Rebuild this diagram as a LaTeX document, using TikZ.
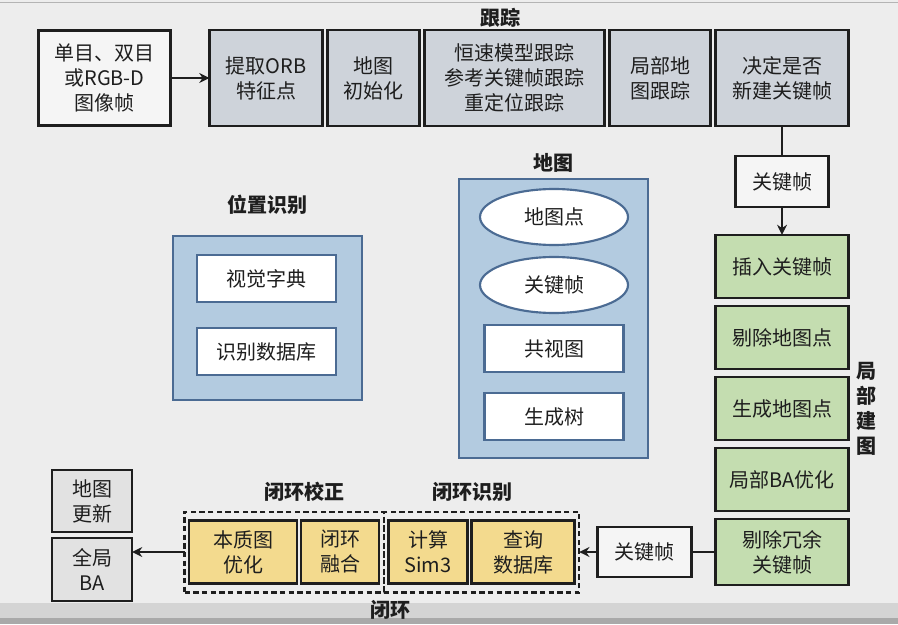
\documentclass[tikz,border=0pt]{standalone}
\usepackage{fontspec}
\setmainfont{Noto Sans CJK SC}
\usepackage{tikz}
\usetikzlibrary{arrows.meta,positioning,fit,shapes.geometric}
\definecolor{Backdrop}{HTML}{EDEDED}
\definecolor{Rule}{HTML}{B4B4B4}
\definecolor{Band}{HTML}{D4D4D4}
\definecolor{BandDark}{HTML}{A9A9A9}
\definecolor{Chalk}{HTML}{F5F5F5}
\definecolor{Steel}{HTML}{CED3DA}
\definecolor{Ash}{HTML}{E2E2E2}
\definecolor{Frost}{HTML}{B3CBE0}
\definecolor{Slate}{HTML}{4B6B93}
\definecolor{Leaf}{HTML}{C4DDB0}
\definecolor{Sand}{HTML}{F3DA8E}
\definecolor{Ink}{HTML}{1E1E1E}
\newcommand{\boxfont}{\fontsize{15pt}{18.75pt}\selectfont}
\tikzset{
  plain/.style={draw=Ink, line width=1.8pt, outer sep=0pt, fill=Chalk, align=center, inner sep=2pt, font=\boxfont, text=Ink},
  track/.style={plain, fill=Steel, minimum height=72pt},
  build/.style={plain, fill=Leaf, minimum width=99.75pt, minimum height=47.25pt},
  stage/.style={plain, fill=Sand, minimum height=47.25pt},
  spare/.style={plain, fill=Ash, minimum width=60pt},
  pane/.style={draw=Slate, line width=1.6pt, outer sep=0pt, fill=Frost},
  item/.style={draw=Slate, line width=1.6pt, outer sep=0pt, fill=white, minimum width=104.25pt, minimum height=35.25pt, font=\boxfont, text=Ink},
  oval/.style={ellipse, draw=Slate, line width=1.6pt, outer sep=0pt, fill=white, minimum width=111pt, minimum height=42pt, font=\boxfont, text=Ink},
  group/.style={draw=Ink, line width=1.6pt, outer sep=0pt, dash pattern=on 4pt off 2.5pt, inner xsep=3.5pt, inner ysep=6.7pt},
  title/.style={font=\boxfont\bfseries, text=Ink, inner sep=2pt, align=center},
  arrow/.style={-{Stealth[length=2.7mm, width=2.6mm]}, line width=1.8pt, draw=Ink},
  link/.style={line width=1.8pt, draw=Ink}
}

\begin{document}
\begin{tikzpicture}[x=0.75pt, y=-0.75pt, node distance=6pt]
% backdrop of the frame
\fill[Backdrop] (0,0) rectangle (898,624);
\useasboundingbox (0,0) rectangle (898,624);
\draw[Rule, line width=0.8pt] (0,2.5) -- (898,2.5);
\fill[Band] (0,603) rectangle (898,624);
\fill[BandDark] (0,618) rectangle (898,624);

% tracking
\node[plain, minimum width=99pt, minimum height=71pt] (frames) at (104.5,78) {单目、双目\\或RGB-D\\图像帧};
\node[track, right=29.25pt of frames, minimum width=84.75pt] (orb) {提取ORB\\特征点};
\node[track, right=3.75pt of orb, minimum width=69pt] (init) {地图\\初始化};
\node[track, right=3.75pt of init, minimum width=135pt] (motion) {恒速模型跟踪\\参考关键帧跟踪\\重定位跟踪};
\node[track, right=3.75pt of motion, minimum width=75.75pt] (localtrk) {局部地\\图跟踪};
\node[track, right=3.75pt of localtrk, minimum width=99.75pt] (decide) {决定是否\\新建关键帧};
\node[title] (tracktitle) at (500,18) {跟踪};
\draw[arrow] (frames) -- (orb);

% local mapping
\node[plain, below=22.5pt of decide, minimum width=69.75pt, minimum height=38.25pt] (kfnew) {关键帧};
\node[build, below=21pt of kfnew] (insert) {插入关键帧};
\node[build, below=of insert] (cullpts) {剔除地图点};
\node[build, below=of cullpts] (newpts) {生成地图点};
\node[build, below=of newpts] (localba) {局部BA优化};
\node[build, below=of localba, minimum height=49.5pt] (cullkf) {剔除冗余\\关键帧};
\node[title, right=4pt of newpts] (buildtitle) {局\\部\\建\\图};
\draw[link] (decide) -- (kfnew);
\draw[arrow] (kfnew) -- (insert);

% place recognition
\node[title] (recogtitle) at (267,205) {位置识别};
\node[pane, minimum width=141.75pt, minimum height=123pt] (recog) at (267.5,318) {};
\node[item] (vocab) at (266.5,278.5) {视觉字典};
\node[item, below=19.5pt of vocab] (kfdb) {识别数据库};

% map
\node[title] (maptitle) at (553,163) {地图};
\node[pane, minimum width=141.75pt, minimum height=209.25pt] (map) at (553.5,318.5) {};
\node[oval] (mappts) at (554,217) {地图点};
\node[oval, below=9pt of mappts] (mapkf) {关键帧};
\node[item, below=9pt of mapkf] (covis) {共视图};
\node[item, below=15.75pt of covis] (spantree) {生成树};

% loop closing
\node[plain, left=18pt of cullkf, minimum width=70.5pt, minimum height=37.5pt] (kfloop) {关键帧};
\node[stage, left=17.25pt of kfloop, minimum width=77.25pt] (query) {查询\\数据库};
\node[stage, left=3pt of query, minimum width=59.25pt] (sim3) {计算\\Sim3};
\node[stage, left=7pt of sim3, minimum width=58.5pt] (fuse) {闭环\\融合};
\node[stage, left=3pt of fuse, minimum width=81pt] (essgraph) {本质图\\优化};
\node[group, fit=(essgraph)(fuse)] (loopfix) {};
\node[group, fit=(sim3)(query)] (loopdet) {};
\node[title] (fixtitle) at (304,492) {闭环校正};
\node[title] (dettitle) at (472,492) {闭环识别};
\node[title] (looptitle) at (390,610) {闭环};
\draw[link] (cullkf) -- (kfloop);
\draw[arrow] (kfloop.west) -- (kfloop.west -| loopdet.east);

% global update
\node[spare, minimum height=47.25pt] (globalba) at (92,569.5) {全局\\BA};
\node[spare, above=4.5pt of globalba, minimum height=46.5pt] (mapupd) {地图\\更新};
\draw[arrow] (loopfix.west) -- (loopfix.west -| globalba.east);
\end{tikzpicture}
\end{document}
